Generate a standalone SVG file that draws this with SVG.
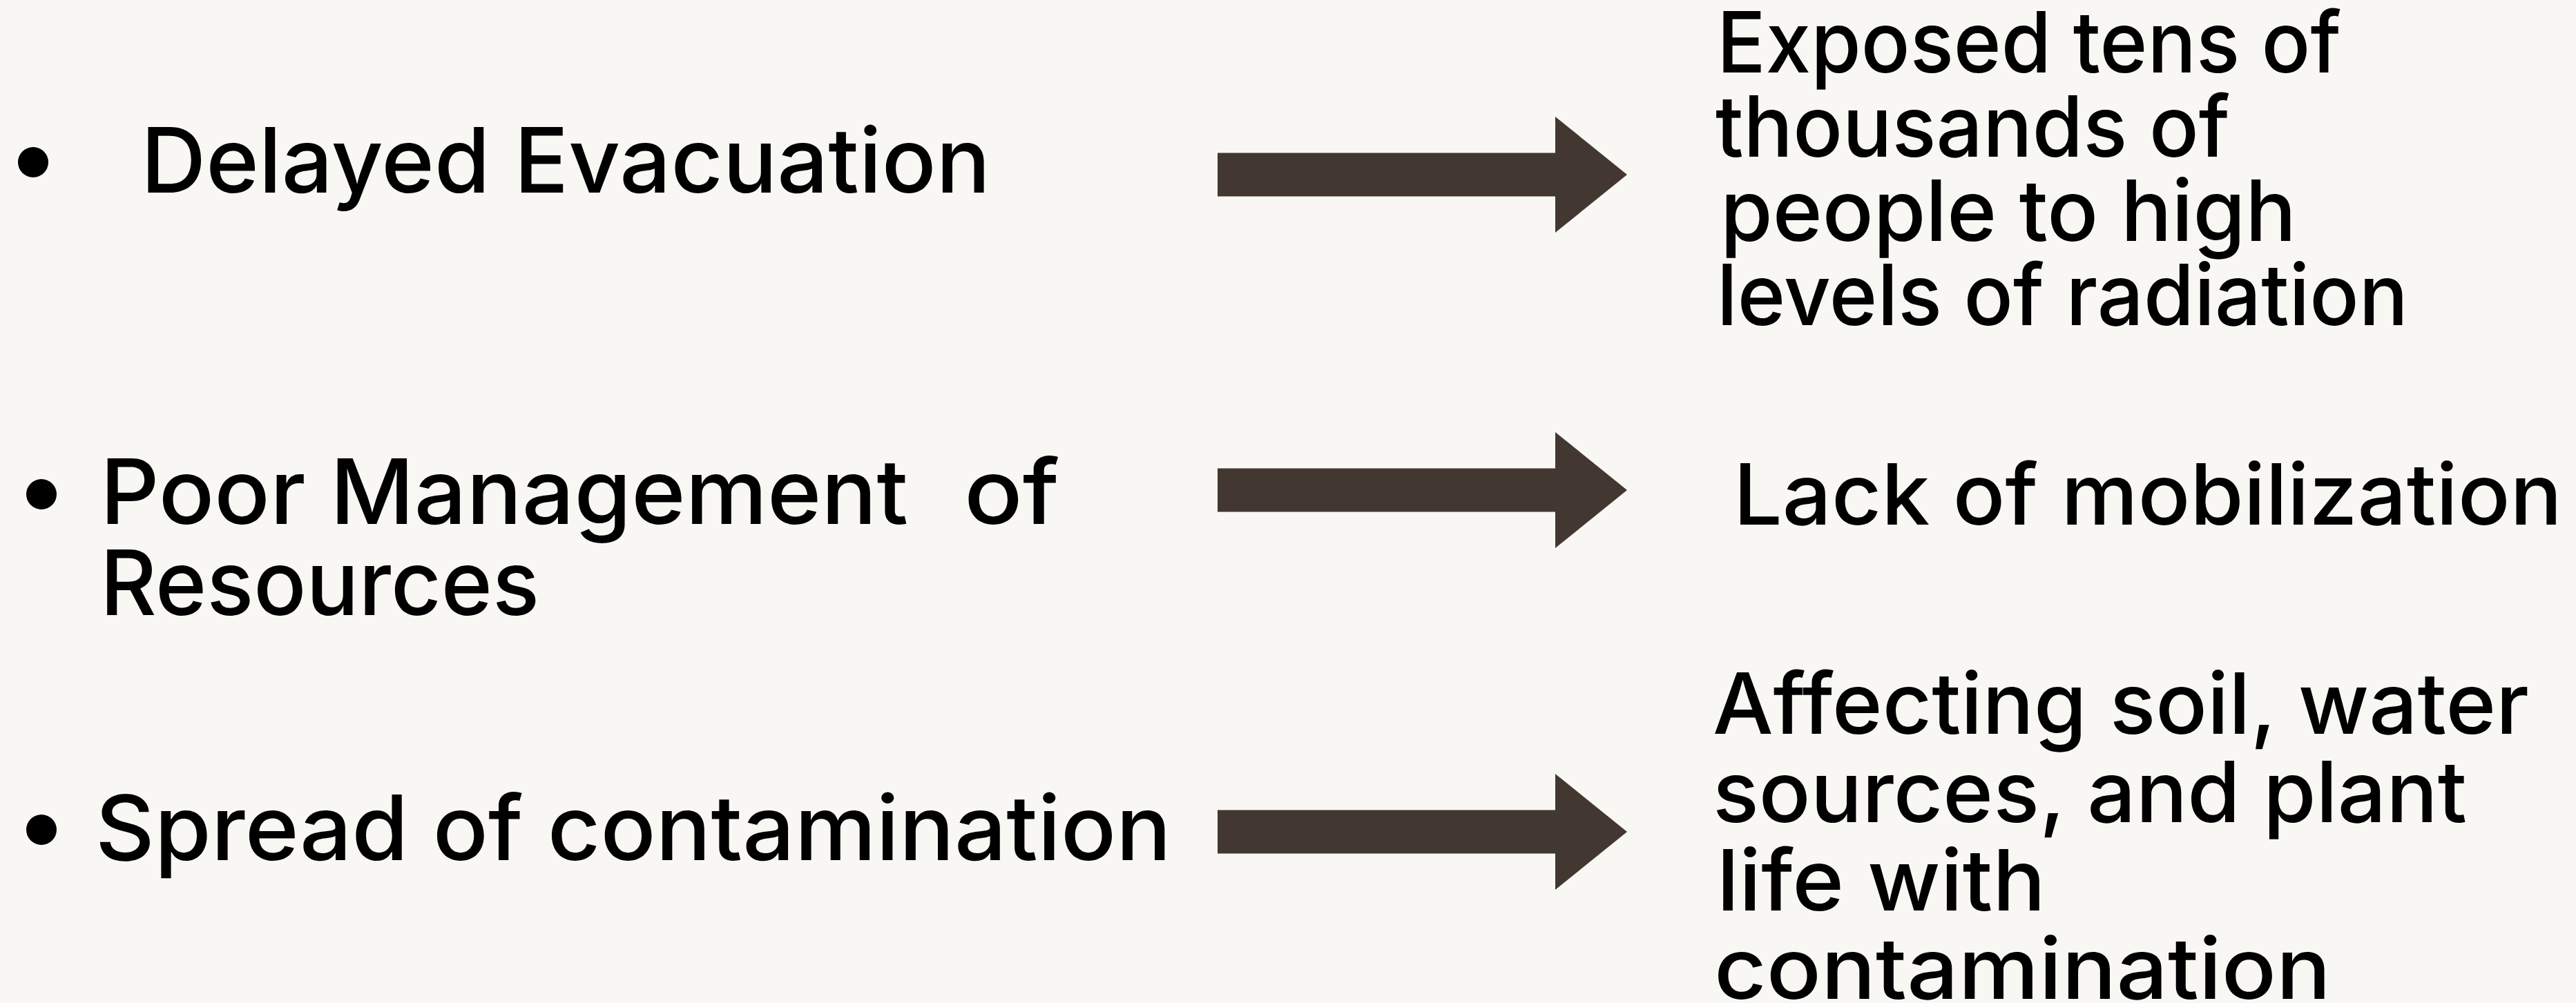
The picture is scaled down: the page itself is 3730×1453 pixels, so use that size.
<svg xmlns="http://www.w3.org/2000/svg" xmlns:xlink="http://www.w3.org/1999/xlink" width="3730" height="1453" viewBox="0 0 3730 1453">
  <style>
    .bg { fill: #f8f7f3; }
    .lt { font-family: Inter, "Open Sans", "Liberation Sans", sans-serif; font-weight: 500; font-size: 130px; fill: #000; }
    .rt { font-family: Inter, "Open Sans", "Liberation Sans", sans-serif; font-weight: 500; font-size: 123px; fill: #000; }
    .bullet { fill: #000; }
    .arrow { fill: #433731; }
  </style>
  <defs>
    <polygon id="arrowShape" class="arrow" points="1763,-31.5 2252,-31.5 2252,-84 2356,0 2252,84 2252,31.5 1763,31.5"/>
  </defs>
  <rect class="bg" x="0" y="0" width="3730" height="1453"/>

  <g id="cause-delayed-evacuation">
    <circle class="bullet" cx="48" cy="235" r="22"/>
    <text class="lt" x="204" y="279" textLength="1230" lengthAdjust="spacingAndGlyphs">Delayed Evacuation</text>
  </g>

  <g id="cause-poor-management">
    <circle class="bullet" cx="60" cy="716" r="22"/>
    <text class="lt" x="145" y="759" textLength="1170" lengthAdjust="spacingAndGlyphs">Poor Management</text>
    <text class="lt" x="1396" y="759" textLength="138" lengthAdjust="spacingAndGlyphs">of</text>
    <text class="lt" x="145" y="891" textLength="636" lengthAdjust="spacingAndGlyphs">Resources</text>
  </g>

  <g id="cause-spread-contamination">
    <circle class="bullet" cx="60" cy="1202" r="22"/>
    <text class="lt" x="138" y="1246" textLength="1558" lengthAdjust="spacingAndGlyphs">Spread of contamination</text>
  </g>

  <g id="effect-exposure">
    <text class="rt" x="2486" y="105" textLength="904" lengthAdjust="spacingAndGlyphs">Exposed tens of</text>
    <text class="rt" x="2484" y="227" textLength="745" lengthAdjust="spacingAndGlyphs">thousands of</text>
    <text class="rt" x="2491" y="349" textLength="834" lengthAdjust="spacingAndGlyphs">people to high</text>
    <text class="rt" x="2486" y="471" textLength="1001" lengthAdjust="spacingAndGlyphs">levels of radiation</text>
  </g>

  <g id="effect-mobilization">
    <text class="rt" x="2510" y="760" textLength="1200" lengthAdjust="spacingAndGlyphs">Lack of mobilization</text>
  </g>

  <g id="effect-contamination">
    <text class="rt" x="2480" y="1063" textLength="1182" lengthAdjust="spacingAndGlyphs">Affecting soil, water</text>
    <text class="rt" x="2480" y="1191" textLength="1092" lengthAdjust="spacingAndGlyphs">sources, and plant</text>
    <text class="rt" x="2486" y="1319" textLength="476" lengthAdjust="spacingAndGlyphs">life with</text>
    <text class="rt" x="2482" y="1447" textLength="893" lengthAdjust="spacingAndGlyphs">contamination</text>
  </g>

  <g id="connectors">
    <use xlink:href="#arrowShape" href="#arrowShape" transform="translate(0,253)"/>
    <use xlink:href="#arrowShape" href="#arrowShape" transform="translate(0,710)"/>
    <use xlink:href="#arrowShape" href="#arrowShape" transform="translate(0,1205)"/>
  </g>
</svg>
